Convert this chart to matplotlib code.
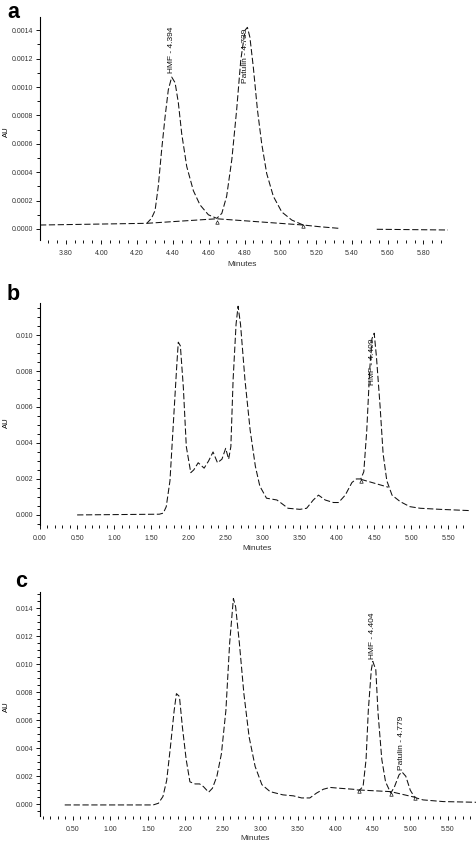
import matplotlib
matplotlib.use("Agg")
import matplotlib.pyplot as plt
from matplotlib.ticker import MultipleLocator, FormatStrFormatter

plt.rcParams['font.family'] = ['Liberation Sans', 'DejaVu Sans']

NAN = float('nan')

# panel a: standard (minutes, AU)
a_time = [3.657, 4.254, 4.28, 4.30, 4.318, 4.337, 4.356, 4.374, 4.393, 4.412,
          4.43, 4.449, 4.477, 4.514, 4.551, 4.598, 4.645, 4.673, 4.70, 4.729,
          4.756, 4.779, 4.803, 4.816, 4.83, 4.849, 4.872, 4.896, 4.924, 4.961,
          5.008, 5.064, 5.128, 5.22, 5.324, NAN, 5.539, 5.937]
a_au = [0.000028, 0.00004, 0.000075, 0.00013, 0.0003, 0.00056, 0.00079, 0.00098, 0.00107, 0.00103,
        0.00089, 0.00067, 0.00044, 0.00027, 0.00017, 0.0001, 0.000075, 0.00011, 0.00023, 0.00049,
        0.00084, 0.00119, 0.0014, 0.00142, 0.00135, 0.00114, 0.00084, 0.0006, 0.00039, 0.00023,
        0.00012, 0.000063, 0.000028, 0.000016, 0.000005, NAN, -0.000002, -0.000007]
a_base_time = [4.254, 4.645, 5.128]
a_base_au = [0.00004, 0.000072, 0.000028]
a_drop_time = [4.645, 5.128]
a_drop_au = [0.00005, 0.00002]
a_peaks = [("HMF - 4.394", 4.393, 0.00110), ("Patulin - 4.739", 4.803, 0.00103)]

# panel b: sample
b_time = [0.5, 1.606, 1.66, 1.70, 1.75, 1.79, 1.84, 1.862, 1.89, 1.93,
          1.97, 2.03, 2.07, 2.13, 2.21, 2.27, 2.33, 2.39, 2.45, 2.50,
          2.54, 2.57, 2.60, 2.64, 2.667, 2.70, 2.76, 2.83, 2.90, 2.96,
          3.05, 3.19, 3.25, 3.34, 3.50, 3.59, 3.68, 3.75, 3.84, 3.95,
          4.02, 4.11, 4.20, 4.26, 4.32, 4.36, 4.40, 4.44, 4.47, 4.50,
          4.53, 4.58, 4.62, 4.67, 4.74, 4.85, 4.98, 5.12, 5.39, 5.79]
b_au = [0.0, 0.00004, 0.0001, 0.00046, 0.0019, 0.0047, 0.0082, 0.0096, 0.0094, 0.0071,
        0.0038, 0.00235, 0.0025, 0.0029, 0.0026, 0.003, 0.0035, 0.0029, 0.0031, 0.0037,
        0.0031, 0.0038, 0.0075, 0.0106, 0.0116, 0.0106, 0.0075, 0.0047, 0.0027, 0.0016,
        0.00093, 0.00083, 0.00065, 0.00037, 0.00031, 0.00037, 0.00083, 0.0011, 0.00083, 0.00069,
        0.00069, 0.0011, 0.0018, 0.002, 0.002, 0.0024, 0.0047, 0.0081, 0.0098, 0.0101,
        0.0088, 0.006, 0.0034, 0.0019, 0.0011, 0.00074, 0.00046, 0.00037, 0.00031, 0.00024]
b_base_time = [4.32, 4.69]
b_base_au = [0.00198, 0.00154]
b_drop_time = [4.32]
b_drop_au = [0.0019]
b_peaks = [("HMF - 4.409", 4.48, 0.0072)]

# panel c: spiked sample
c_time = [0.39, 1.57, 1.64, 1.70, 1.75, 1.80, 1.85, 1.88, 1.92, 1.96,
          2.01, 2.06, 2.13, 2.19, 2.24, 2.31, 2.36, 2.42, 2.48, 2.54,
          2.59, 2.64, 2.67, 2.72, 2.78, 2.85, 2.93, 3.02, 3.13, 3.30,
          3.44, 3.55, 3.66, 3.75, 3.84, 3.93, 4.06, 4.24, 4.32, 4.37,
          4.41, 4.44, 4.48, 4.50, 4.54, 4.57, 4.62, 4.67, 4.74, 4.79,
          4.85, 4.89, 4.94, 5.00, 5.06, 5.17, 5.44, 5.88]
c_au = [-0.00005, -0.00005, 0.00007, 0.00055, 0.0017, 0.0041, 0.0067, 0.0079, 0.0077, 0.0055,
        0.0032, 0.0016, 0.00145, 0.00145, 0.00126, 0.00086, 0.00114, 0.002, 0.0036, 0.0067,
        0.0115, 0.0147, 0.0141, 0.0115, 0.0079, 0.0048, 0.0027, 0.0014, 0.0009, 0.00067,
        0.0006, 0.00045, 0.00045, 0.0008, 0.00107, 0.0012, 0.00114, 0.00107, 0.001, 0.00126,
        0.0032, 0.0067, 0.0096, 0.0102, 0.0096, 0.0065, 0.0032, 0.0016, 0.00079, 0.00126,
        0.0021, 0.0023, 0.002, 0.001, 0.00048, 0.00031, 0.00019, 0.00014]
c_base_time = [4.31, 4.74, 5.06]
c_base_au = [0.00102, 0.0009, 0.0005]
c_drop_time = [4.31, 4.74, 5.06]
c_drop_au = [0.00095, 0.00075, 0.00042]
c_peaks = [("HMF - 4.404", 4.50, 0.0104), ("Patulin - 4.779", 4.88, 0.00245)]

W, H = 477, 841
LINE = dict(color='#111111', lw=0.75, dashes=(6, 2.5))


def px_rect(left, top, right, bottom):
    return [left / W, 1 - bottom / H, (right - left) / W, (bottom - top) / H]


def draw_panel(fig, rect, time, au, base_t, base_v, drop_t, drop_v, peaks,
               xlim, ylim, xmaj, xmin, ymaj, ymin, yfmt):
    ax = fig.add_axes(rect)
    ax.plot(time, au, **LINE)
    ax.plot(base_t, base_v, **LINE)
    ax.plot(drop_t, drop_v, ls='none', marker='^', ms=2.5, mfc='white',
            mec='#111111', mew=0.5)
    for name, x, y in peaks:
        ax.text(x, y, name, rotation=90, ha='center', va='bottom', fontsize=6,
                color='#111111')
    ax.set_xlim(*xlim)
    ax.set_ylim(*ylim)
    ax.xaxis.set_major_locator(MultipleLocator(xmaj))
    ax.xaxis.set_minor_locator(MultipleLocator(xmin))
    ax.yaxis.set_major_locator(MultipleLocator(ymaj))
    ax.yaxis.set_minor_locator(MultipleLocator(ymin))
    ax.xaxis.set_major_formatter(FormatStrFormatter('%.2f'))
    ax.yaxis.set_major_formatter(FormatStrFormatter(yfmt))
    for s in ['top', 'right', 'bottom']:
        ax.spines[s].set_visible(False)
    ax.spines['left'].set_linewidth(0.8)
    ax.tick_params(which='both', direction='out', width=0.7, colors='#111111',
                   labelsize=5, labelcolor='#333333')
    ax.tick_params(which='major', length=3)
    ax.tick_params(which='minor', length=2)
    ax.tick_params(axis='y', pad=2)
    ax.tick_params(axis='x', pad=4)
    ax.patch.set_visible(False)
    return ax


fig = plt.figure(figsize=(W / 100, H / 100), dpi=100)

draw_panel(fig, px_rect(40, 17, 448, 240), a_time, a_au, a_base_time, a_base_au,
           a_drop_time, a_drop_au, a_peaks, (3.657, 5.937), (-0.0000775, 0.001493),
           0.2, 0.05, 0.0002, 0.0001, '%.4f')
draw_panel(fig, px_rect(40, 303, 470, 525), b_time, b_au, b_base_time, b_base_au,
           b_drop_time, b_drop_au, b_peaks, (0.0, 5.79), (-0.00056, 0.01178),
           0.5, 0.1, 0.002, 0.0005, '%.3f')
draw_panel(fig, px_rect(40, 592, 477, 816), c_time, c_au, c_base_time, c_base_au,
           c_drop_time, c_drop_au, c_peaks, (0.06, 5.89), (-0.00084, 0.01516),
           0.5, 0.1, 0.002, 0.0005, '%.3f')

# panel letters and axis titles
for letter, x, y in [('a', 7, 18), ('b', 7, 300), ('c', 15, 587)]:
    fig.text(x / W, 1 - y / H, letter, fontsize=15.5, fontweight='bold', va='baseline')
for y in [132, 423, 707]:
    fig.text(6 / W, 1 - y / H, 'AU', rotation=90, fontsize=5.5, ha='center', va='center')
for x, y in [(242, 265), (257, 548), (255, 838)]:
    fig.text(x / W, 1 - y / H, 'Minutes', fontsize=6, ha='center', va='center',
             color='#333333')

fig.savefig('out.png', dpi=100)
